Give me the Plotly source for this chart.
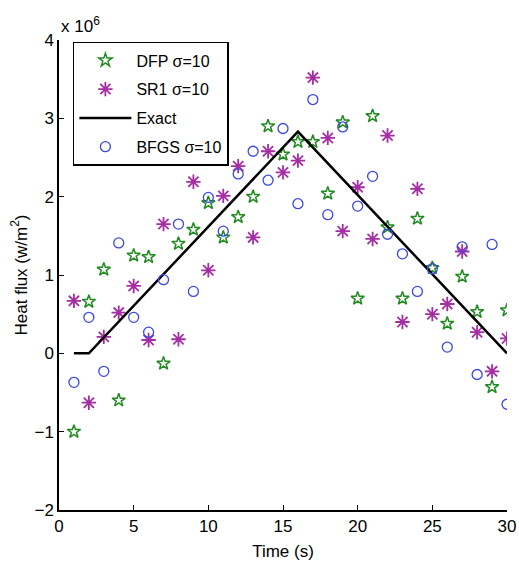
import plotly.graph_objects as go

time = list(range(1, 31))
# values in units of 1e6 W/m^2
dfp = [-1.0, 0.66, 1.07, -0.6, 1.25, 1.23, -0.13, 1.4, 1.58, 1.92, 1.48, 1.74, 2.0, 2.9, 2.54,
       2.7, 2.7, 2.04, 2.95, 0.7, 3.03, 1.61, 0.7, 1.72, 1.09, 0.38, 0.98, 0.53, -0.43, 0.55]
sr1 = [0.67, -0.63, 0.21, 0.52, 0.86, 0.17, 1.65, 0.18, 2.19, 1.06, 2.01, 2.39, 1.48, 2.58, 2.31,
       2.46, 3.52, 2.75, 1.56, 2.12, 1.46, 2.78, 0.4, 2.1, 0.5, 0.63, 1.3, 0.27, -0.23, 0.19]
bfgs = [-0.37, 0.46, -0.23, 1.41, 0.46, 0.27, 0.94, 1.65, 0.79, 1.99, 1.56, 2.29, 2.58, 2.21, 2.87,
        1.91, 3.24, 1.77, 2.89, 1.88, 2.26, 1.52, 1.27, 0.79, 1.08, 0.08, 1.36, -0.27, 1.39, -0.65]
exact_t = [1, 2, 16, 30]
exact_v = [0, 0, 2.83, 0]
x_ticks = [0, 5, 10, 15, 20, 25, 30]
y_ticks = [-2, -1, 0, 1, 2, 3, 4]

FONT = "Liberation Sans, Arial, sans-serif"
GREEN = "#218a21"
MAGENTA = "#a52ea5"
BLUE = "#3b47e6"

fig = go.Figure()
fig.add_trace(go.Scatter(x=time, y=dfp, mode="markers", name="DFP σ=10", legendgroup="a",
                         marker=dict(symbol="star-open", size=10, color=GREEN,
                                     line=dict(width=1.5, color=GREEN))))
fig.add_trace(go.Scatter(x=time, y=sr1, mode="markers", name="SR1 σ=10", legendgroup="b",
                         marker=dict(symbol="asterisk-open", size=12, color=MAGENTA,
                                     line=dict(width=1.8, color=MAGENTA))))
fig.add_trace(go.Scatter(x=exact_t, y=exact_v, mode="lines", name="Exact", legendgroup="c",
                         line=dict(color="black", width=2.5)))
fig.add_trace(go.Scatter(x=time, y=bfgs, mode="markers", name="BFGS σ=10", legendgroup="d",
                         marker=dict(symbol="circle-open", size=10, color=BLUE,
                                     line=dict(width=1.3, color=BLUE))))

axis_common = dict(showgrid=False, zeroline=False, showline=True, linecolor="black",
                   linewidth=1.5, ticks="inside", ticklen=5, tickcolor="black",
                   tickfont=dict(family=FONT, size=17, color="black"), mirror=False,
                   automargin=False)

fig.update_layout(
    width=519, height=575,
    paper_bgcolor="white", plot_bgcolor="white",
    margin=dict(l=59, r=12, t=40, b=65),
    showlegend=True,
    legend=dict(x=0.031, y=0.996, xanchor="left", yanchor="top",
                bordercolor="black", borderwidth=1.5, bgcolor="white",
                font=dict(family=FONT, size=16, color="black"),
                itemwidth=52, tracegroupgap=5),
    xaxis=dict(range=[0, 30], tickvals=x_ticks,
               title=dict(text="Time (s)", font=dict(family=FONT, size=17, color="black"), standoff=10),
               **axis_common),
    yaxis=dict(range=[-2, 4], tickvals=y_ticks,
               title=dict(text="Heat flux (w/m<sup>2</sup>)", font=dict(family=FONT, size=17, color="black"),
                          standoff=3),
               **axis_common),
    annotations=[dict(text="x 10<sup>6</sup>", xref="paper", yref="paper", x=0.0, y=1.0,
                      xanchor="left", yanchor="bottom", showarrow=False, yshift=2,
                      font=dict(family=FONT, size=17, color="black"))],
)

fig.write_html("out.html", config={"displayModeBar": False},
               post_script="document.body.style.margin='0';document.body.style.overflow='hidden';")
